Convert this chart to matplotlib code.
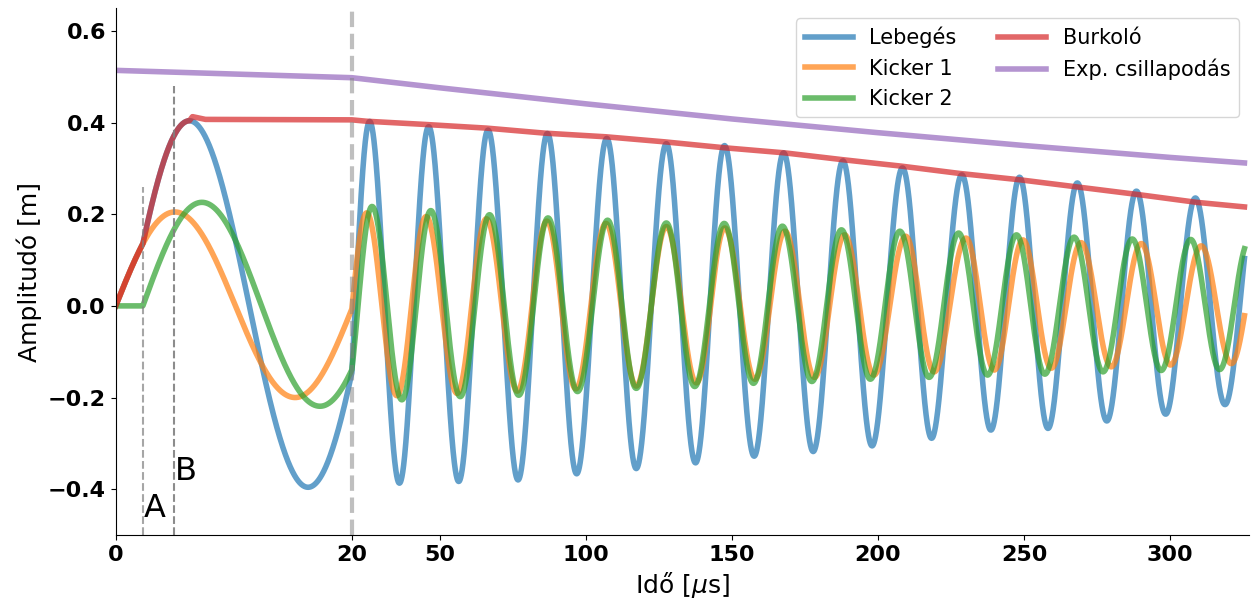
import numpy as np
import matplotlib
matplotlib.use("Agg")
import matplotlib.pyplot as plt

# extrema of the two kicker signals (time in us, amplitude in m); first node is the start
k1_t = [0.0, 5.0, 15.2, 25.05, 35.4, 45.4, 56.0, 66.0, 76.6, 86.7, 96.6, 106.9,
        117.3, 127.6, 137.9, 147.6, 157.9, 168.2, 178.3, 188.6, 198.6, 209.5,
        219.2, 230.1, 239.8, 249.6, 259.3, 269.5, 279.8, 290.1, 300.1, 310.6,
        320.9, 331.0]
k1_v = [0.0, 0.205, -0.200, 0.203, -0.196, 0.195, -0.191, 0.190, -0.186, 0.185,
        -0.181, 0.180, -0.175, 0.173, -0.168, 0.170, -0.160, 0.163, -0.156,
        0.155, -0.151, 0.152, -0.144, 0.148, -0.140, 0.144, -0.136, 0.138,
        -0.133, 0.136, -0.129, 0.131, -0.126, 0.126]

k2_t = [2.3, 7.3, 17.3, 26.9, 37.1, 47.0, 57.1, 67.1, 77.1, 87.1, 97.2, 107.5,
        117.3, 127.6, 137.3, 147.4, 157.4, 167.3, 177.4, 187.5, 197.4, 207.5,
        217.5, 227.6, 237.5, 247.4, 257.1, 267.1, 277.0, 287.0, 296.9, 307.0,
        316.9, 326.9]
k2_v = [0.0, 0.226, -0.219, 0.217, -0.205, 0.208, -0.198, 0.199, -0.195, 0.192,
        -0.187, 0.187, -0.180, 0.181, -0.176, 0.180, -0.169, 0.174, -0.165,
        0.166, -0.160, 0.163, -0.156, 0.159, -0.151, 0.155, -0.149, 0.150,
        -0.144, 0.146, -0.141, 0.145, -0.139, 0.140]

# envelope: small overshoot at the first maximum, then values after the second kick
env_peak_t = [6.5, 7.6]
env_peak_v = [0.413, 0.407]
env_t = [20, 25, 45, 66, 86, 107, 127, 147.6, 168, 188, 208, 228, 248.8, 269,
         289, 309, 325.4]
env_v = [0.406, 0.403, 0.396, 0.388, 0.377, 0.369, 0.358, 0.345, 0.334, 0.319,
         0.305, 0.289, 0.275, 0.259, 0.243, 0.226, 0.216]

# exponential damping reference
exp_t = [0, 20, 50, 100, 150, 200, 250, 300, 325.4]
exp_v = [0.514, 0.498, 0.476, 0.441, 0.408, 0.378, 0.350, 0.324, 0.312]

t_kick_a = 2.3
t_kick_b = 4.9
t_split = 20.0
t_end = 325.4
x_ticks = [0, 20, 50, 100, 150, 200, 250, 300]

STRETCH = 4.04  # first 20 us drawn wider


def fwd(t):
    t = np.asarray(t, dtype=float)
    return np.where(t < t_split, t * STRETCH, t_split * STRETCH + (t - t_split))


def inv(u):
    u = np.asarray(u, dtype=float)
    return np.where(u < t_split * STRETCH, u / STRETCH, u - t_split * STRETCH + t_split)


def wave(t, nt, nv):
    # quarter sine from the start node, half-cosine between consecutive extrema
    nt = np.asarray(nt)
    nv = np.asarray(nv)
    y = np.zeros_like(t)
    idx = np.searchsorted(nt, t, side='right') - 1
    ok = (idx >= 0) & (idx < len(nt) - 1)
    i = idx[ok]
    s = (t[ok] - nt[i]) / (nt[i + 1] - nt[i])
    v0, v1 = nv[i], nv[i + 1]
    y[ok] = np.where(i == 0, v1 * np.sin(np.pi / 2 * s),
                     v0 + (v1 - v0) * (1 - np.cos(np.pi * s)) / 2)
    return y


t = np.concatenate([np.linspace(0, t_split, 1500), np.linspace(t_split, t_end, 9000)[1:]])
k1 = wave(t, k1_t, k1_v)
k2 = wave(t, k2_t, k2_v)
beat = k1 + k2

# envelope: rides on the beat signal while it rises, then the read values
rise = t < env_peak_t[0] - 0.25
env_x = np.concatenate([t[rise], env_peak_t, env_t])
env_y = np.concatenate([beat[rise], env_peak_v, env_v])

fig = plt.figure(figsize=(12.51, 6.05), dpi=100)
ax = fig.add_axes([0.0925, 0.1157, 0.906, 0.871])
ax.set_xscale('function', functions=(fwd, inv))

lw = 4
ax.plot(t, beat, color='C0', lw=lw, alpha=0.7, label='Lebegés')
ax.plot(t, k1, color='C1', lw=lw, alpha=0.7, label='Kicker 1')
ax.plot(t, k2, color='C2', lw=lw, alpha=0.7, label='Kicker 2')
ax.plot(env_x, env_y, color='C3', lw=lw, alpha=0.7, label='Burkoló')
ax.plot(exp_t, exp_v, color='C4', lw=lw, alpha=0.7, label='Exp. csillapodás')

ax.vlines(t_kick_a, -0.5, 0.26, colors='gray', linestyles='--', lw=1.5, alpha=0.7)
ax.vlines(t_kick_b, -0.5, 0.48, colors='gray', linestyles='--', lw=1.5, alpha=0.9)
ax.vlines(t_split, -0.5, 0.65, colors='gray', linestyles='--', lw=3, alpha=0.5)
ax.text(t_kick_a + 0.1, -0.461, 'A', fontsize=23, ha='left', va='baseline')
ax.text(t_kick_b + 0.1, -0.381, 'B', fontsize=23, ha='left', va='baseline')

ax.set_xlim(0, 327)
ax.set_ylim(-0.5, 0.65)
ax.set_xticks(x_ticks)
ax.set_xticklabels([str(v) for v in x_ticks])
ax.set_yticks([-0.4, -0.2, 0.0, 0.2, 0.4, 0.6])
ax.tick_params(labelsize=16)
for lab in ax.get_xticklabels() + ax.get_yticklabels():
    lab.set_fontweight('bold')
ax.spines['top'].set_visible(False)
ax.spines['right'].set_visible(False)

ax.set_xlabel(r'Idő [$\mu$s]', fontsize=18)
ax.set_ylabel('Amplitudó [m]', fontsize=18)
ax.legend(loc='upper right', ncol=2, fontsize=15, handlelength=2.3)

fig.savefig('out.png', dpi=100)
